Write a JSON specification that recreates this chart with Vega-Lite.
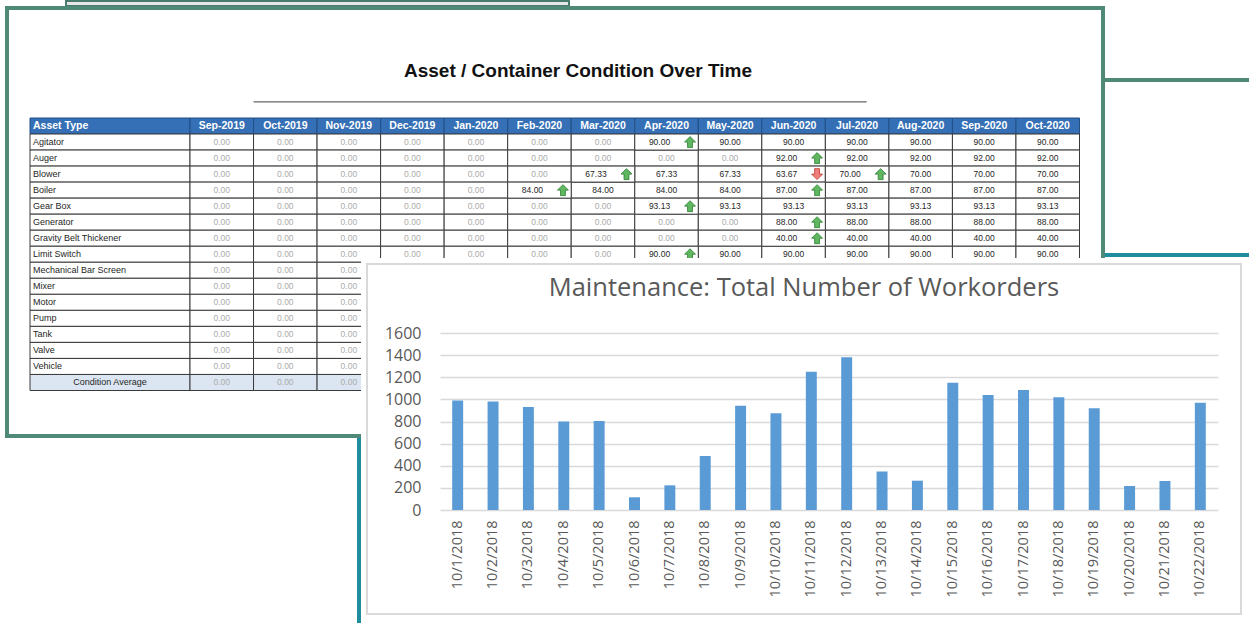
{
  "$schema": "https://vega.github.io/schema/vega-lite/v6.json",
  "padding": 0,
  "autosize": {"type": "pad"},
  "background": "white",
  "config": {"view": {"stroke": null}, "font": "Liberation Sans"},
  "datasets": {
    "rows": [
      {"asset": "Asset Type"}, {"asset": "Agitator"}, {"asset": "Auger"}, {"asset": "Blower"}, {"asset": "Boiler"},
      {"asset": "Gear Box"}, {"asset": "Generator"}, {"asset": "Gravity Belt Thickener"}, {"asset": "Limit Switch"},
      {"asset": "Mechanical Bar Screen"}, {"asset": "Mixer"}, {"asset": "Motor"}, {"asset": "Pump"}, {"asset": "Tank"},
      {"asset": "Valve"}, {"asset": "Vehicle"}, {"asset": "Condition Average"}
    ],
    "months": [
      {"month": "Sep-2019"}, {"month": "Oct-2019"}, {"month": "Nov-2019"}, {"month": "Dec-2019"}, {"month": "Jan-2020"},
      {"month": "Feb-2020"}, {"month": "Mar-2020"}, {"month": "Apr-2020"}, {"month": "May-2020"}, {"month": "Jun-2020"},
      {"month": "Jul-2020"}, {"month": "Aug-2020"}, {"month": "Sep-2020"}, {"month": "Oct-2020"}
    ],
    "cells": [
      {"asset": "Agitator", "Sep-2019": 0, "Oct-2019": 0, "Nov-2019": 0, "Dec-2019": 0, "Jan-2020": 0, "Feb-2020": 0, "Mar-2020": 0, "Apr-2020": null, "May-2020": 90, "Jun-2020": 90, "Jul-2020": 90, "Aug-2020": 90, "Sep-2020": 90, "Oct-2020": 90},
      {"asset": "Auger", "Sep-2019": 0, "Oct-2019": 0, "Nov-2019": 0, "Dec-2019": 0, "Jan-2020": 0, "Feb-2020": 0, "Mar-2020": 0, "Apr-2020": 0, "May-2020": 0, "Jun-2020": null, "Jul-2020": 92, "Aug-2020": 92, "Sep-2020": 92, "Oct-2020": 92},
      {"asset": "Blower", "Sep-2019": 0, "Oct-2019": 0, "Nov-2019": 0, "Dec-2019": 0, "Jan-2020": 0, "Feb-2020": 0, "Mar-2020": null, "Apr-2020": 67.33, "May-2020": 67.33, "Jun-2020": null, "Jul-2020": null, "Aug-2020": 70, "Sep-2020": 70, "Oct-2020": 70},
      {"asset": "Boiler", "Sep-2019": 0, "Oct-2019": 0, "Nov-2019": 0, "Dec-2019": 0, "Jan-2020": 0, "Feb-2020": null, "Mar-2020": 84, "Apr-2020": 84, "May-2020": 84, "Jun-2020": null, "Jul-2020": 87, "Aug-2020": 87, "Sep-2020": 87, "Oct-2020": 87},
      {"asset": "Gear Box", "Sep-2019": 0, "Oct-2019": 0, "Nov-2019": 0, "Dec-2019": 0, "Jan-2020": 0, "Feb-2020": 0, "Mar-2020": 0, "Apr-2020": null, "May-2020": 93.13, "Jun-2020": 93.13, "Jul-2020": 93.13, "Aug-2020": 93.13, "Sep-2020": 93.13, "Oct-2020": 93.13},
      {"asset": "Generator", "Sep-2019": 0, "Oct-2019": 0, "Nov-2019": 0, "Dec-2019": 0, "Jan-2020": 0, "Feb-2020": 0, "Mar-2020": 0, "Apr-2020": 0, "May-2020": 0, "Jun-2020": null, "Jul-2020": 88, "Aug-2020": 88, "Sep-2020": 88, "Oct-2020": 88},
      {"asset": "Gravity Belt Thickener", "Sep-2019": 0, "Oct-2019": 0, "Nov-2019": 0, "Dec-2019": 0, "Jan-2020": 0, "Feb-2020": 0, "Mar-2020": 0, "Apr-2020": 0, "May-2020": 0, "Jun-2020": null, "Jul-2020": 40, "Aug-2020": 40, "Sep-2020": 40, "Oct-2020": 40},
      {"asset": "Limit Switch", "Sep-2019": 0, "Oct-2019": 0, "Nov-2019": 0, "Dec-2019": 0, "Jan-2020": 0, "Feb-2020": 0, "Mar-2020": 0, "Apr-2020": null, "May-2020": 90, "Jun-2020": 90, "Jul-2020": 90, "Aug-2020": 90, "Sep-2020": 90, "Oct-2020": 90},
      {"asset": "Mechanical Bar Screen", "Sep-2019": 0, "Oct-2019": 0, "Nov-2019": 0},
      {"asset": "Mixer", "Sep-2019": 0, "Oct-2019": 0, "Nov-2019": 0},
      {"asset": "Motor", "Sep-2019": 0, "Oct-2019": 0, "Nov-2019": 0},
      {"asset": "Pump", "Sep-2019": 0, "Oct-2019": 0, "Nov-2019": 0},
      {"asset": "Tank", "Sep-2019": 0, "Oct-2019": 0, "Nov-2019": 0},
      {"asset": "Valve", "Sep-2019": 0, "Oct-2019": 0, "Nov-2019": 0},
      {"asset": "Vehicle", "Sep-2019": 0, "Oct-2019": 0, "Nov-2019": 0},
      {"asset": "Condition Average", "Sep-2019": 0, "Oct-2019": 0, "Nov-2019": 0}
    ],
    "changes": [
      {"asset": "Agitator", "month": "Apr-2020", "value": 90, "arrow": "up"},
      {"asset": "Auger", "month": "Jun-2020", "value": 92, "arrow": "up"},
      {"asset": "Blower", "month": "Mar-2020", "value": 67.33, "arrow": "up"},
      {"asset": "Blower", "month": "Jun-2020", "value": 63.67, "arrow": "down"},
      {"asset": "Blower", "month": "Jul-2020", "value": 70, "arrow": "up"},
      {"asset": "Boiler", "month": "Feb-2020", "value": 84, "arrow": "up"},
      {"asset": "Boiler", "month": "Jun-2020", "value": 87, "arrow": "up"},
      {"asset": "Gear Box", "month": "Apr-2020", "value": 93.13, "arrow": "up"},
      {"asset": "Generator", "month": "Jun-2020", "value": 88, "arrow": "up"},
      {"asset": "Gravity Belt Thickener", "month": "Jun-2020", "value": 40, "arrow": "up"},
      {"asset": "Limit Switch", "month": "Apr-2020", "value": 90, "arrow": "up"}
    ],
    "workorders": [
      {"date": "10/1/2018", "count": 990}, {"date": "10/2/2018", "count": 980}, {"date": "10/3/2018", "count": 930},
      {"date": "10/4/2018", "count": 800}, {"date": "10/5/2018", "count": 805}, {"date": "10/6/2018", "count": 115},
      {"date": "10/7/2018", "count": 223}, {"date": "10/8/2018", "count": 488}, {"date": "10/9/2018", "count": 943},
      {"date": "10/10/2018", "count": 874}, {"date": "10/11/2018", "count": 1250}, {"date": "10/12/2018", "count": 1380},
      {"date": "10/13/2018", "count": 347}, {"date": "10/14/2018", "count": 265}, {"date": "10/15/2018", "count": 1151},
      {"date": "10/16/2018", "count": 1040}, {"date": "10/17/2018", "count": 1085}, {"date": "10/18/2018", "count": 1019},
      {"date": "10/19/2018", "count": 919}, {"date": "10/20/2018", "count": 217}, {"date": "10/21/2018", "count": 262},
      {"date": "10/22/2018", "count": 970}
    ]
  },
  "bounds": "flush",
  "spacing": 0,
  "hconcat": [
    {
      "bounds": "flush", "spacing": 0,
      "vconcat": [
        {"width": 1, "height": 1, "data": {"values": []}, "mark": "point"},
        {"bounds": "flush", "spacing": 0, "hconcat": [
          {"width": 66, "height": 1, "data": {"values": []}, "mark": "point"},
          {"width": 503, "height": 5, "data": {"values": []}, "mark": "point", "view": {"fill": "#e6e6e6", "stroke": "#4a7a6c", "strokeWidth": 2}}
        ]}
      ]
    },
    {
      "bounds": "flush", "spacing": 0,
      "vconcat": [
        {"width": 1, "height": 80, "data": {"values": []}, "mark": "point"},
        {"bounds": "flush", "spacing": 0, "hconcat": [
          {"width": 1103, "height": 1, "data": {"values": []}, "mark": "point"},
          {"width": 160, "height": 200, "data": {"values": []}, "mark": "point", "view": {"fill": "white", "stroke": "#4f8a78", "strokeWidth": 4}}
        ]}
      ]
    },
    {
      "bounds": "flush", "spacing": 0,
      "vconcat": [
        {"width": 1, "height": 255, "data": {"values": []}, "mark": "point"},
        {"bounds": "flush", "spacing": 0, "hconcat": [
          {"width": 359, "height": 1, "data": {"values": []}, "mark": "point"},
          {"width": 900, "height": 380, "data": {"values": []}, "mark": "point", "view": {"fill": "white", "stroke": "#1e8e9e", "strokeWidth": 4}}
        ]}
      ]
    },
    {
      "bounds": "flush", "spacing": 0,
      "vconcat": [
        {"width": 1, "height": 8, "data": {"values": []}, "mark": "point"},
        {"bounds": "flush", "spacing": 0, "hconcat": [
          {"width": 7, "height": 1, "data": {"values": []}, "mark": "point"},
          {
            "width": 1096, "height": 428,
            "view": {"fill": "white", "stroke": "#4f8a78", "strokeWidth": 4},
            "title": {"text": "Asset / Container Condition Over Time", "font": "Liberation Sans", "fontSize": 19, "fontWeight": "bold", "color": "#111111", "anchor": "middle", "frame": "group", "baseline": "alphabetic", "offset": -88, "dx": 23},
            "resolve": {"scale": {"x": "independent"}},
            "layer": [
              {
                "data": {"name": "rows"},
                "encoding": {
                  "y": {"field": "asset", "type": "nominal", "axis": null, "scale": {"domain": ["Asset Type", "Agitator", "Auger", "Blower", "Boiler", "Gear Box", "Generator", "Gravity Belt Thickener", "Limit Switch", "Mechanical Bar Screen", "Mixer", "Motor", "Pump", "Tank", "Valve", "Vehicle", "Condition Average"], "range": [110, 382.5], "paddingInner": 0, "paddingOuter": 0}},
                  "x": {"datum": "Asset Type", "type": "nominal", "axis": null, "scale": {"domain": ["Asset Type"], "range": [23, 183], "paddingInner": 0, "paddingOuter": 0}}
                },
                "layer": [
                  {
                    "mark": {"type": "rect", "strokeWidth": 1},
                    "encoding": {
                      "fill": {"condition": [{"test": "datum.asset === 'Asset Type'", "value": "#356fb5"}, {"test": "datum.asset === 'Condition Average'", "value": "#dce6f2"}], "value": "white"},
                      "stroke": {"condition": {"test": "datum.asset === 'Asset Type'", "value": "#234f86"}, "value": "#3a3a3a"}
                    }
                  },
                  {
                    "transform": [{"filter": "datum.asset === 'Asset Type'"}],
                    "mark": {"type": "text", "align": "left", "dx": 3, "font": "Liberation Sans Narrow, Liberation Sans", "fontSize": 10.5, "fontWeight": "bold", "color": "white"},
                    "encoding": {"x": {"datum": "Asset Type", "type": "nominal", "bandPosition": 0, "axis": null}, "text": {"field": "asset"}}
                  },
                  {
                    "transform": [{"filter": "datum.asset !== 'Asset Type' && datum.asset !== 'Condition Average'"}],
                    "mark": {"type": "text", "align": "left", "dx": 3, "font": "Liberation Sans", "fontSize": 9, "color": "#262626"},
                    "encoding": {"x": {"datum": "Asset Type", "type": "nominal", "bandPosition": 0, "axis": null}, "text": {"field": "asset"}}
                  },
                  {
                    "transform": [{"filter": "datum.asset === 'Condition Average'"}],
                    "mark": {"type": "text", "font": "Liberation Sans", "fontSize": 9, "color": "#262626"},
                    "encoding": {"text": {"field": "asset"}}
                  }
                ]
              },
              {
                "encoding": {
                  "x": {"field": "month", "type": "ordinal", "axis": null, "scale": {"domain": ["Sep-2019", "Oct-2019", "Nov-2019", "Dec-2019", "Jan-2020", "Feb-2020", "Mar-2020", "Apr-2020", "May-2020", "Jun-2020", "Jul-2020", "Aug-2020", "Sep-2020", "Oct-2020"], "range": [183, 1072.5], "paddingInner": 0, "paddingOuter": 0}},
                  "y": {"field": "asset", "type": "nominal", "axis": null}
                },
                "layer": [
                  {
                    "data": {"name": "months"},
                    "transform": [{"filter": "datum.month === 'Sep-2019'"}],
                    "mark": {"type": "rule", "color": "#666666", "strokeWidth": 1.2},
                    "encoding": {
                      "x": {"datum": "Oct-2019", "type": "ordinal", "bandPosition": 0, "axis": null},
                      "x2": {"datum": "Jul-2020", "bandPosition": 0.65},
                      "y": {"datum": "Asset Type", "type": "nominal", "bandPosition": -1, "axis": null}
                    }
                  },
                  {
                    "data": {"name": "months"},
                    "mark": {"type": "rect", "fill": "#356fb5", "stroke": "#234f86", "strokeWidth": 1},
                    "encoding": {"y": {"datum": "Asset Type", "type": "nominal", "axis": null}}
                  },
                  {
                    "data": {"name": "months"},
                    "mark": {"type": "text", "font": "Liberation Sans Narrow, Liberation Sans", "fontSize": 10.5, "fontWeight": "bold", "color": "white"},
                    "encoding": {"y": {"datum": "Asset Type", "type": "nominal", "axis": null}, "text": {"field": "month"}}
                  },
                  {
                    "data": {"name": "cells"},
                    "transform": [{"fold": ["Sep-2019", "Oct-2019", "Nov-2019", "Dec-2019", "Jan-2020", "Feb-2020", "Mar-2020", "Apr-2020", "May-2020", "Jun-2020", "Jul-2020", "Aug-2020", "Sep-2020", "Oct-2020"], "as": ["month", "value"]}, {"filter": "isValid(datum.value)"}],
                    "mark": {"type": "rect", "stroke": "#3a3a3a", "strokeWidth": 1},
                    "encoding": {"fill": {"condition": {"test": "datum.asset === 'Condition Average'", "value": "#dce6f2"}, "value": "white"}}
                  },
                  {
                    "data": {"name": "changes"},
                    "mark": {"type": "rect", "fill": "white", "stroke": "#3a3a3a", "strokeWidth": 1}
                  },
                  {
                    "data": {"name": "cells"},
                    "transform": [{"fold": ["Sep-2019", "Oct-2019", "Nov-2019", "Dec-2019", "Jan-2020", "Feb-2020", "Mar-2020", "Apr-2020", "May-2020", "Jun-2020", "Jul-2020", "Aug-2020", "Sep-2020", "Oct-2020"], "as": ["month", "value"]}, {"filter": "isValid(datum.value)"}],
                    "mark": {"type": "text", "font": "Liberation Sans", "fontSize": 8.5},
                    "encoding": {
                      "text": {"field": "value", "type": "quantitative", "format": ".2f"},
                      "color": {"condition": {"test": "datum.value === 0", "value": "#ababab"}, "value": "#262626"}
                    }
                  },
                  {
                    "data": {"name": "changes"},
                    "mark": {"type": "text", "font": "Liberation Sans", "fontSize": 8.5, "color": "#262626"},
                    "encoding": {
                      "x": {"field": "month", "type": "ordinal", "bandPosition": 0.39, "axis": null},
                      "text": {"field": "value", "type": "quantitative", "format": ".2f"}
                    }
                  },
                  {
                    "data": {"name": "changes"},
                    "transform": [{"filter": "datum.arrow === 'up'"}],
                    "mark": {"type": "point", "shape": "M0,-1L1,0L0.45,0L0.45,1L-0.45,1L-0.45,0L-1,0Z", "filled": true, "fill": "#5fb760", "stroke": "#2e7d32", "strokeWidth": 0.8, "size": 120, "opacity": 1},
                    "encoding": {"x": {"field": "month", "type": "ordinal", "bandPosition": 0.87, "axis": null}}
                  },
                  {
                    "data": {"name": "changes"},
                    "transform": [{"filter": "datum.arrow === 'down'"}],
                    "mark": {"type": "point", "shape": "M0,1L1,0L0.45,0L0.45,-1L-0.45,-1L-0.45,0L-1,0Z", "filled": true, "fill": "#ee7f7a", "stroke": "#c0392b", "strokeWidth": 0.8, "size": 120, "opacity": 1},
                    "encoding": {"x": {"field": "month", "type": "ordinal", "bandPosition": 0.87, "axis": null}}
                  }
                ]
              }
            ]
          }
        ]}
      ]
    },
    {
      "bounds": "flush", "spacing": 0,
      "vconcat": [
        {"width": 1, "height": 258, "data": {"values": []}, "mark": "point"},
        {"bounds": "flush", "spacing": 0, "hconcat": [
          {"width": 361, "height": 1, "data": {"values": []}, "mark": "point"},
          {"width": 886, "height": 363, "data": {"values": []}, "mark": "point", "view": {"fill": "white", "stroke": null}}
        ]}
      ]
    },
    {
      "bounds": "flush", "spacing": 0,
      "vconcat": [
        {"width": 1, "height": 264, "data": {"values": []}, "mark": "point"},
        {"bounds": "flush", "spacing": 0, "hconcat": [
          {"width": 367, "height": 1, "data": {"values": []}, "mark": "point"},
          {
            "width": 874, "height": 350,
            "view": {"fill": "white", "stroke": "#d9d9d9", "strokeWidth": 2},
            "data": {"name": "workorders"},
            "title": {"text": "Maintenance: Total Number of Workorders", "font": "Open Sans", "fontSize": 25.5, "fontWeight": "normal", "color": "#595959", "anchor": "middle", "frame": "group", "baseline": "alphabetic", "offset": -57},
            "mark": {"type": "bar", "color": "#5b9bd5"},
            "encoding": {
              "x": {"field": "date", "type": "ordinal", "sort": null, "scale": {"range": [73, 851], "paddingInner": 0.69, "paddingOuter": 0.345},
                "axis": {"orient": "bottom", "offset": -104, "domain": false, "ticks": false, "grid": false, "labelAngle": -90, "labelAlign": "right", "labelBaseline": "middle", "labelPadding": 10, "labelFont": "Open Sans", "labelFontSize": 14.5, "labelColor": "#595959", "title": null, "labelOverlap": false}},
              "y": {"field": "count", "type": "quantitative", "scale": {"domain": [0, 1600], "range": [246, 69], "nice": false},
                "axis": {"orient": "left", "offset": -73, "values": [0, 200, 400, 600, 800, 1000, 1200, 1400, 1600], "format": "d", "domain": false, "ticks": false, "grid": true, "gridColor": "#d9d9d9", "gridWidth": 1.3, "labelPadding": 19, "labelFont": "Open Sans", "labelFontSize": 16, "labelColor": "#595959", "title": null, "labelFlush": false, "labelOverlap": false}}
            }
          }
        ]}
      ]
    }
  ]
}
